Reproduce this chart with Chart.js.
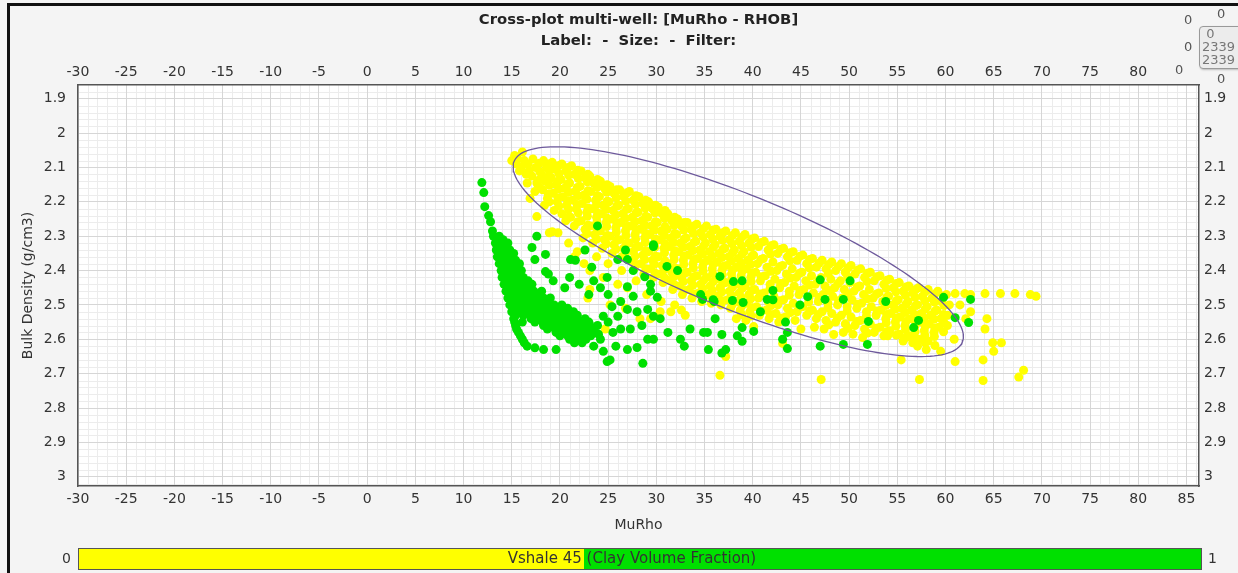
<!DOCTYPE html>
<html>
<head>
<meta charset="utf-8">
<title>Cross-plot multi-well</title>
<script src="https://cdn.jsdelivr.net/npm/chart.js@4.4.1/dist/chart.umd.min.js"></script>
<style>
  html, body { margin: 0; padding: 0; background: #f4f4f4; }
  #wrap { position: relative; width: 1238px; height: 573px; overflow: hidden;
          font-family: "DejaVu Sans", Verdana, sans-serif; }
  #plot { position: absolute; left: 0; top: 0; }
  #frame { position: absolute; left: 7px; top: 3px; width: 1300px; height: 700px;
           border-left: 3px solid #111; border-top: 3px solid #111; pointer-events: none; }
  .num { position: absolute; font-size: 13px; color: #555; }
  #box { position: absolute; left: 1199px; top: 26px; width: 48px; height: 41px;
         border: 1px solid #999; border-radius: 4px; background: #ececec;
         box-shadow: 1px 1px 2px #bbb; font-size: 13px; line-height: 13px; color: #777; }
  #box div { padding-left: 2px; }
  #cbar { position: absolute; left: 78px; top: 548px; width: 1122px; height: 20px;
          border: 1px solid #555; background: #00e000; }
  #cbarLow { position: absolute; left: 0; top: 0; height: 20px; background: #ffff00; }
  #cbarText { position: absolute; left: 0; right: 16px; top: 0px; text-align: center;
              font-size: 15px; color: #333; }
  .cbarEnd { position: absolute; top: 550px; font-size: 14px; color: #333; }
</style>
</head>
<body>
<div id="wrap">
  <canvas id="plot" width="1238" height="573"></canvas>
  <div id="frame"></div>

  <span class="num" style="left:1184px; top:12px;">0</span>
  <span class="num" style="left:1184px; top:39px;">0</span>
  <span class="num" style="left:1175px; top:62px;">0</span>
  <span class="num" style="left:1217px; top:6px;">0</span>
  <div id="box"><div>&nbsp;0</div><div>2339</div><div>2339</div></div>
  <span class="num" style="left:1217px; top:71px;">0</span>

  <span class="cbarEnd" style="left:62px;">0</span>
  <div id="cbar"><div id="cbarLow"></div><div id="cbarText"></div></div>
  <span class="cbarEnd" style="left:1208px;">1</span>
</div>

<script>
// ---------------------------------------------------------------------------
// Données lues sur le cross-plot (MuRho, RHOB)

const xTicksBottom = [-30, -25, -20, -15, -10, -5, 0, 5, 10, 15, 20, 25, 30, 35, 40, 45, 50, 55, 60, 65, 70, 75, 80, 85];
const xTicksTop = [-30, -25, -20, -15, -10, -5, 0, 5, 10, 15, 20, 25, 30, 35, 40, 45, 50, 55, 60, 65, 70, 75, 80];
const yTicks = [1.9, 2, 2.1, 2.2, 2.3, 2.4, 2.5, 2.6, 2.7, 2.8, 2.9, 3];

const vshaleCutoff = 0.45;
const vshaleLabel = 'Vshale 45 (Clay Volume Fraction)';

// Vshale < 0.45 (jaune)
const yellowPoints = [
  [15.0,2.08],[15.3,2.065],[15.5,2.09],[15.8,2.11],[15.6,2.075],[16.7,2.09],[16.8,2.11],[16.6,2.145],
  [16.1,2.055],[16.3,2.08],[16.0,2.10],[16.5,2.12],[16.9,2.19],
  [17.2,2.075],[17.5,2.10],[17.1,2.125],[17.6,2.145],[17.4,2.17],[17.6,2.243],
  [18.3,2.08],[18.6,2.10],[18.1,2.12],[18.5,2.14],[18.2,2.165],[18.7,2.19],[18.4,2.21],[18.9,2.29],
  [19.2,2.085],[19.5,2.105],[19.1,2.13],[19.6,2.15],[19.3,2.175],[19.7,2.20],[19.4,2.225],[19.2,2.287],[19.8,2.29],
  [20.2,2.09],[20.6,2.11],[20.1,2.135],[20.5,2.16],[20.3,2.185],[20.7,2.21],[20.2,2.235],[20.6,2.255],[20.9,2.32],
  [21.2,2.095],[21.5,2.12],[21.0,2.145],[21.6,2.17],[21.3,2.195],[21.7,2.22],[21.1,2.245],[21.5,2.27],[21.8,2.345],
  [22.2,2.11],[22.6,2.13],[22.1,2.155],[22.5,2.18],[22.3,2.205],[22.8,2.23],[22.2,2.255],[22.6,2.28],[22.4,2.305],
  [23.1,2.125],[23.5,2.145],[23.2,2.17],[23.7,2.195],[23.3,2.22],[23.8,2.245],[23.2,2.27],[23.6,2.295],[23.4,2.32],[23.1,2.40],[23.1,2.455],[22.9,2.48],
  [24.2,2.14],[24.6,2.16],[24.1,2.185],[24.5,2.21],[24.3,2.235],[24.8,2.26],[24.2,2.285],[24.6,2.31],[24.4,2.335],[24.7,2.57],
  [25.2,2.155],[25.6,2.175],[25.1,2.20],[25.5,2.225],[25.3,2.25],[25.8,2.275],[25.2,2.30],[25.6,2.325],[25.4,2.35],[25.2,2.50],
  [26.2,2.165],[26.6,2.185],[26.1,2.21],[26.5,2.235],[26.3,2.26],[26.8,2.285],[26.2,2.31],[26.6,2.335],[26.4,2.36],[26.8,2.51],
  [27.2,2.17],[27.6,2.195],[27.1,2.22],[27.5,2.245],[27.3,2.27],[27.8,2.295],[27.2,2.32],[27.6,2.345],[27.4,2.37],[27.7,2.395],
  [28.2,2.185],[28.6,2.205],[28.1,2.23],[28.5,2.255],[28.3,2.28],[28.8,2.305],[28.2,2.33],[28.6,2.355],[28.4,2.38],[28.7,2.41],[28.3,2.54],
  [29.2,2.20],[29.6,2.22],[29.1,2.245],[29.5,2.27],[29.3,2.295],[29.8,2.32],[29.2,2.345],[29.6,2.37],[29.4,2.395],[29.7,2.42],[29.4,2.54],
  [30.2,2.215],[30.6,2.235],[30.1,2.26],[30.5,2.285],[30.3,2.31],[30.8,2.335],[30.2,2.36],[30.6,2.385],[30.4,2.41],[30.7,2.435],
  [31.2,2.235],[31.6,2.255],[31.1,2.28],[31.5,2.305],[31.3,2.33],[31.8,2.355],[31.2,2.38],[31.6,2.405],[31.4,2.43],[31.7,2.455],
  [32.2,2.25],[32.6,2.27],[32.1,2.295],[32.5,2.32],[32.3,2.345],[32.8,2.37],[32.2,2.395],[32.6,2.42],[32.4,2.445],[32.7,2.47],
  [33.2,2.26],[33.6,2.28],[33.1,2.305],[33.5,2.33],[33.3,2.355],[33.8,2.38],[33.2,2.405],[33.6,2.43],[33.4,2.455],[33.7,2.48],
  [34.2,2.265],[34.6,2.29],[34.1,2.315],[34.5,2.34],[34.3,2.365],[34.8,2.39],[34.2,2.415],[34.6,2.44],[34.4,2.465],[34.7,2.49],
  [35.2,2.27],[35.6,2.295],[35.1,2.32],[35.5,2.345],[35.3,2.37],[35.8,2.395],[35.2,2.42],[35.6,2.445],[35.4,2.47],[35.7,2.495],
  [36.2,2.28],[36.6,2.30],[36.1,2.325],[36.5,2.35],[36.3,2.375],[36.8,2.40],[36.2,2.425],[36.6,2.45],[36.4,2.475],[36.7,2.50],
  [37.2,2.285],[37.6,2.31],[37.1,2.335],[37.5,2.36],[37.3,2.385],[37.8,2.41],[37.2,2.435],[37.6,2.46],[37.4,2.485],[37.7,2.51],
  [38.2,2.29],[38.6,2.315],[38.1,2.34],[38.5,2.365],[38.3,2.39],[38.8,2.415],[38.2,2.44],[38.6,2.465],[38.4,2.49],[38.7,2.515],[38.3,2.54],
  [39.2,2.295],[39.6,2.32],[39.1,2.345],[39.5,2.37],[39.3,2.395],[39.8,2.42],[39.2,2.445],[39.6,2.47],[39.4,2.495],[39.7,2.52],[39.3,2.545],
  [40.2,2.305],[40.6,2.33],[40.1,2.355],[40.5,2.38],[40.3,2.405],[40.8,2.43],[40.2,2.455],[40.6,2.48],[40.4,2.505],[40.7,2.53],[40.1,2.563],
  [41.2,2.315],[41.6,2.34],[41.1,2.365],[41.5,2.39],[41.3,2.415],[41.8,2.44],[41.2,2.465],[41.6,2.49],[41.4,2.515],[41.7,2.54],
  [42.2,2.325],[42.6,2.35],[42.1,2.375],[42.5,2.40],[42.3,2.425],[42.8,2.45],[42.2,2.475],[42.6,2.50],[42.4,2.525],[42.7,2.55],
  [43.2,2.335],[43.6,2.36],[43.1,2.385],[43.5,2.41],[43.3,2.435],[43.8,2.46],[43.2,2.485],[43.6,2.51],[43.4,2.535],
  [44.2,2.345],[44.6,2.37],[44.1,2.395],[44.5,2.42],[44.3,2.445],[44.8,2.47],[44.2,2.495],[44.6,2.52],[44.4,2.545],
  [45.2,2.355],[45.6,2.38],[45.1,2.405],[45.5,2.43],[45.3,2.455],[45.8,2.48],[45.2,2.505],[45.6,2.53],[45.0,2.57],
  [46.2,2.365],[46.6,2.39],[46.1,2.415],[46.5,2.44],[46.3,2.465],[46.8,2.49],[46.2,2.515],[46.6,2.54],[46.4,2.565],
  [47.2,2.37],[47.6,2.395],[47.1,2.42],[47.5,2.445],[47.3,2.47],[47.8,2.495],[47.2,2.52],[47.6,2.545],[47.4,2.57],
  [48.2,2.375],[48.6,2.40],[48.1,2.425],[48.5,2.45],[48.3,2.475],[48.8,2.50],[48.2,2.525],[48.6,2.55],[48.4,2.586],
  [49.2,2.38],[49.6,2.405],[49.1,2.43],[49.5,2.455],[49.3,2.48],[49.8,2.505],[49.2,2.53],[49.6,2.555],[49.4,2.58],
  [50.2,2.385],[50.6,2.41],[50.1,2.435],[50.5,2.46],[50.3,2.485],[50.8,2.51],[50.2,2.535],[50.6,2.56],[50.4,2.585],
  [51.2,2.395],[51.6,2.42],[51.1,2.445],[51.5,2.47],[51.3,2.495],[51.8,2.52],[51.2,2.545],[51.6,2.57],[51.4,2.595],
  [52.2,2.405],[52.6,2.43],[52.1,2.455],[52.5,2.48],[52.3,2.505],[52.8,2.53],[52.2,2.555],[52.6,2.58],
  [53.2,2.415],[53.6,2.44],[53.1,2.465],[53.5,2.49],[53.3,2.515],[53.8,2.54],[53.2,2.565],[53.6,2.59],
  [54.2,2.425],[54.6,2.45],[54.1,2.475],[54.5,2.50],[54.3,2.525],[54.8,2.55],[54.2,2.575],[54.0,2.59],
  [55.2,2.435],[55.6,2.46],[55.1,2.485],[55.5,2.51],[55.3,2.535],[55.8,2.56],[55.2,2.585],[55.6,2.605],[55.4,2.66],
  [56.2,2.445],[56.6,2.465],[56.1,2.49],[56.5,2.515],[56.3,2.54],[56.8,2.565],[56.2,2.59],[56.6,2.61],
  [57.2,2.45],[57.6,2.475],[57.1,2.50],[57.5,2.525],[57.3,2.55],[57.8,2.575],[57.2,2.60],[57.1,2.62],[57.3,2.717],
  [58.2,2.455],[58.6,2.48],[58.1,2.505],[58.5,2.53],[58.3,2.555],[58.8,2.58],[58.2,2.605],[58.0,2.63],
  [59.2,2.46],[59.6,2.49],[59.1,2.515],[59.5,2.54],[59.3,2.565],[59.5,2.635],
  [60.1,2.47],[60.4,2.50],[60.2,2.53],[60.2,2.56],[60.9,2.60],[61.5,2.50],
  // points intercalés du noyau dense
  [17.85,2.088],[17.9,2.112],[17.8,2.137],[17.9,2.158],
  [18.85,2.09],[18.9,2.11],[18.8,2.13],[18.9,2.152],[18.8,2.178],[18.9,2.20],
  [19.85,2.095],[19.9,2.118],[19.8,2.14],[19.9,2.162],[19.8,2.188],[19.9,2.212],
  [20.85,2.10],[20.9,2.122],[20.8,2.148],[20.9,2.172],[20.8,2.197],[20.9,2.222],[20.85,2.245],
  [21.85,2.108],[21.9,2.132],[21.8,2.158],[21.9,2.182],[21.8,2.208],[21.9,2.232],[21.85,2.258],
  [22.9,2.12],[22.85,2.142],[22.9,2.168],[22.8,2.192],[22.9,2.218],[22.85,2.242],[22.9,2.268],[22.8,2.292],
  [23.9,2.135],[23.85,2.158],[23.9,2.182],[23.8,2.208],[23.9,2.232],[23.85,2.258],[23.9,2.282],[23.8,2.308],
  [24.9,2.15],[24.85,2.172],[24.9,2.198],[24.8,2.222],[24.9,2.248],[24.85,2.272],[24.9,2.298],[24.8,2.322],
  [25.9,2.165],[25.85,2.188],[25.9,2.212],[25.8,2.238],[25.9,2.262],[25.85,2.288],[25.9,2.312],[25.8,2.338],
  [26.9,2.175],[26.85,2.198],[26.9,2.222],[26.8,2.248],[26.9,2.272],[26.85,2.298],[26.9,2.322],[26.8,2.348],
  [27.9,2.182],[27.85,2.208],[27.9,2.232],[27.8,2.258],[27.9,2.282],[27.85,2.308],[27.9,2.332],[27.8,2.358],[27.9,2.382],
  [28.9,2.195],[28.85,2.218],[28.9,2.242],[28.8,2.268],[28.9,2.292],[28.85,2.318],[28.9,2.342],[28.8,2.368],[28.9,2.395],
  [29.9,2.21],[29.85,2.232],[29.9,2.258],[29.8,2.282],[29.9,2.308],[29.85,2.332],[29.9,2.358],[29.8,2.382],[29.9,2.408],
  [30.9,2.225],[30.85,2.248],[30.9,2.272],[30.8,2.298],[30.9,2.322],[30.85,2.348],[30.9,2.372],[30.8,2.398],[30.9,2.422],
  [31.9,2.245],[31.85,2.268],[31.9,2.292],[31.8,2.318],[31.9,2.342],[31.85,2.368],[31.9,2.392],[31.8,2.418],[31.9,2.442],
  [32.9,2.26],[32.85,2.282],[32.9,2.308],[32.8,2.332],[32.9,2.358],[32.85,2.382],[32.9,2.408],[32.8,2.432],[32.9,2.458],
  [33.9,2.27],[33.85,2.292],[33.9,2.318],[33.8,2.342],[33.9,2.368],[33.85,2.392],[33.9,2.418],[33.8,2.442],[33.9,2.468],
  [34.9,2.278],[34.85,2.302],[34.9,2.328],[34.8,2.352],[34.9,2.378],[34.85,2.402],[34.9,2.428],[34.8,2.452],[34.9,2.478],
  [35.9,2.282],[35.85,2.308],[35.9,2.332],[35.8,2.358],[35.9,2.382],[35.85,2.408],[35.9,2.432],[35.8,2.458],[35.9,2.482],
  [36.9,2.29],[36.85,2.312],[36.9,2.338],[36.8,2.362],[36.9,2.388],[36.85,2.412],[36.9,2.438],[36.8,2.462],[36.9,2.488],
  [37.9,2.298],[37.85,2.322],[37.9,2.348],[37.8,2.372],[37.9,2.398],[37.85,2.422],[37.9,2.448],[37.8,2.472],[37.9,2.498],
  [38.9,2.302],[38.85,2.328],[38.9,2.352],[38.8,2.378],[38.9,2.402],[38.85,2.428],[38.9,2.452],[38.8,2.478],[38.9,2.502],[38.85,2.528],
  [39.9,2.308],[39.85,2.332],[39.9,2.358],[39.8,2.382],[39.9,2.408],[39.85,2.432],[39.9,2.458],[39.8,2.482],[39.9,2.508],[39.85,2.532],
  [40.9,2.318],[40.85,2.368],[40.9,2.418],[40.8,2.468],[40.9,2.518],
  [41.9,2.328],[41.85,2.352],[41.9,2.402],[41.8,2.452],[41.9,2.502],[41.85,2.528],
  [42.9,2.338],[42.85,2.388],[42.9,2.438],[42.8,2.488],[42.9,2.538],
  [43.9,2.348],[43.85,2.372],[43.9,2.422],[43.8,2.472],[43.9,2.522],
  [44.9,2.358],[44.85,2.408],[44.9,2.458],[44.8,2.508],
  [45.9,2.368],[45.85,2.392],[45.9,2.442],[45.8,2.492],[45.9,2.518],
  [46.9,2.378],[46.85,2.428],[46.9,2.478],[46.8,2.528],
  [47.9,2.382],[47.85,2.408],[47.9,2.458],[47.8,2.508],[47.9,2.558],
  [48.9,2.388],[48.85,2.438],[48.9,2.488],[48.8,2.538],
  [49.9,2.392],[49.85,2.418],[49.9,2.468],[49.8,2.518],[49.9,2.568],
  [50.9,2.398],[50.85,2.448],[50.9,2.498],[50.8,2.548],
  [51.9,2.408],[51.85,2.432],[51.9,2.482],[51.8,2.532],[51.9,2.582],
  [52.9,2.418],[52.85,2.468],[52.9,2.518],[52.8,2.568],
  [53.9,2.428],[53.85,2.452],[53.9,2.478],[53.8,2.502],[53.9,2.528],[53.85,2.552],[53.9,2.578],
  [54.9,2.438],[54.85,2.462],[54.9,2.488],[54.8,2.512],[54.9,2.538],[54.85,2.562],[54.9,2.588],
  [55.9,2.448],[55.85,2.472],[55.9,2.498],[55.8,2.522],[55.9,2.548],[55.85,2.572],[55.9,2.595],
  [56.9,2.455],[56.85,2.478],[56.9,2.502],[56.8,2.528],[56.9,2.552],[56.85,2.578],[56.9,2.60],
  [57.9,2.462],[57.85,2.488],[57.9,2.512],[57.8,2.538],[57.9,2.562],[57.85,2.588],[57.9,2.61],
  [58.9,2.468],[58.85,2.492],[58.9,2.518],[58.8,2.542],[58.9,2.568],[58.85,2.592],[58.9,2.618],
  [59.8,2.475],[59.85,2.502],[59.8,2.528],[59.85,2.552],[59.8,2.578],
  // zone de mélange et points isolés
  [21.5,2.36],[22.5,2.38],[24.5,2.42],[26.0,2.44],[27.0,2.45],[30.5,2.49],[31.5,2.52],[33.0,2.53],[30.4,2.52],
  [23.8,2.36],[25.0,2.38],[26.4,2.40],[27.9,2.43],[29.0,2.47],[31.9,2.50],[32.6,2.515],
  [61.0,2.467],[62.0,2.467],[62.6,2.47],[64.1,2.467],[65.7,2.467],[67.2,2.467],[68.8,2.47],[69.4,2.475],
  [62.6,2.52],[64.3,2.54],[62.1,2.54],[64.1,2.57],[64.9,2.61],[65.8,2.61],[65.0,2.635],[63.9,2.66],[61.0,2.665],
  [68.1,2.69],[67.6,2.71],[63.9,2.72],[47.1,2.717],[36.6,2.705],[37.2,2.65],[43.1,2.612]
];

// Vshale >= 0.45 (vert)
const greenPoints = [
  [11.9,2.144],[12.1,2.173],[12.2,2.214],[12.6,2.24],[12.8,2.258],[13.0,2.285],
  [13.1,2.30],[13.7,2.30],
  [13.3,2.32],[14.0,2.32],[14.6,2.32],
  [13.4,2.34],[14.1,2.34],[14.8,2.34],
  [13.5,2.36],[14.2,2.36],[15.0,2.36],
  [13.7,2.38],[14.4,2.38],[15.1,2.38],[15.8,2.38],
  [13.9,2.40],[14.6,2.40],[15.3,2.40],[16.0,2.40],
  [14.0,2.42],[14.7,2.42],[15.4,2.42],[16.2,2.42],
  [14.2,2.44],[14.9,2.44],[15.6,2.44],[16.4,2.44],[17.1,2.44],
  [14.4,2.46],[15.1,2.46],[15.8,2.46],[16.6,2.46],[17.3,2.46],[18.1,2.46],
  [14.6,2.48],[15.3,2.48],[16.0,2.48],[16.8,2.48],[17.5,2.48],[18.3,2.48],[19.0,2.48],
  [14.8,2.50],[15.6,2.50],[16.3,2.50],[17.0,2.50],[17.8,2.50],[18.6,2.50],[19.4,2.50],[20.2,2.50],
  [15.0,2.52],[15.8,2.52],[16.6,2.52],[17.4,2.52],[18.2,2.52],[19.0,2.52],[19.8,2.52],[20.6,2.52],[21.4,2.52],
  [15.2,2.54],[17.0,2.54],[17.8,2.54],[18.6,2.54],[19.4,2.54],[20.2,2.54],[21.0,2.54],[21.8,2.54],[22.6,2.54],
  [15.4,2.56],[18.3,2.56],[19.1,2.56],[19.9,2.56],[20.7,2.56],[21.5,2.56],[22.3,2.56],[23.1,2.56],[23.9,2.56],
  [15.7,2.58],[19.6,2.58],[20.4,2.58],[21.2,2.58],[22.0,2.58],[22.8,2.58],[23.6,2.58],
  [16.1,2.60],[21.0,2.60],[21.9,2.60],[22.7,2.60],[24.2,2.60],
  [16.6,2.62],[17.4,2.625],[18.3,2.63],[19.6,2.63],[23.5,2.62],[25.8,2.62],
  // points intercalés de la bande dense
  [13.4,2.31],[14.1,2.31],[13.7,2.33],[14.4,2.33],[13.8,2.35],[14.5,2.35],[15.2,2.35],
  [14.0,2.37],[14.7,2.37],[15.4,2.37],[14.1,2.39],[14.8,2.39],[15.6,2.39],
  [14.3,2.41],[15.0,2.41],[15.7,2.41],[14.5,2.43],[15.2,2.43],[15.9,2.43],[16.7,2.43],
  [14.6,2.45],[15.4,2.45],[16.1,2.45],[16.9,2.45],[14.8,2.47],[15.6,2.47],[16.3,2.47],[17.0,2.47],[17.8,2.47],
  [15.0,2.49],[15.8,2.49],[16.5,2.49],[17.2,2.49],[18.0,2.49],[18.7,2.49],
  [15.2,2.51],[16.0,2.51],[16.8,2.51],[17.6,2.51],[18.4,2.51],[19.2,2.51],[20.0,2.51],[20.8,2.51],
  [15.4,2.53],[16.2,2.53],[17.0,2.53],[17.8,2.53],[18.6,2.53],[19.4,2.53],[20.2,2.53],[21.0,2.53],[21.8,2.53],
  [15.3,2.55],[16.1,2.55],[17.4,2.55],[18.2,2.55],[19.0,2.55],[19.8,2.55],[20.6,2.55],[21.4,2.55],[22.2,2.55],[23.0,2.55],
  [15.5,2.57],[18.7,2.57],[19.5,2.57],[20.3,2.57],[21.1,2.57],[21.9,2.57],[22.7,2.57],[23.5,2.57],
  [15.9,2.59],[20.0,2.59],[20.8,2.59],[21.6,2.59],[22.4,2.59],[23.2,2.59],[16.3,2.61],[21.5,2.61],[22.3,2.61],
  // points dispersés
  [17.6,2.30],[17.1,2.333],[17.4,2.368],[18.5,2.353],[18.5,2.403],[18.8,2.41],[19.3,2.43],
  [21.1,2.368],[21.6,2.37],[22.6,2.34],[23.3,2.39],[23.5,2.43],[24.9,2.42],[26.0,2.368],[27.0,2.368],
  [27.6,2.40],[29.7,2.33],[28.8,2.418],[29.4,2.44],[29.4,2.46],[30.1,2.478],[27.0,2.447],[27.6,2.475],
  [26.3,2.49],[25.4,2.505],[24.5,2.533],[26.0,2.533],[27.0,2.513],[28.0,2.52],[29.1,2.513],[29.7,2.533],
  [28.5,2.56],[27.3,2.57],[27.0,2.63],[28.0,2.624],[28.6,2.67],[24.9,2.665],[25.2,2.66],[24.5,2.635],
  [29.7,2.60],[29.1,2.60],[23.9,2.27],[31.1,2.388],[32.2,2.40],[26.8,2.34],[24.2,2.45],[25.0,2.47],
  [23.0,2.47],[22.0,2.44],[20.5,2.45],[21.0,2.42],[25.0,2.55],[25.5,2.58],[24.0,2.585],[26.3,2.57],
  [30.4,2.54],[31.2,2.58],[32.5,2.60],[32.9,2.62],[33.5,2.57],[34.9,2.58],[35.4,2.63],[36.8,2.64],
  [35.9,2.485],[34.6,2.47],[34.8,2.484],[36.1,2.54],[35.3,2.58],[36.8,2.586],[38.4,2.59],[38.9,2.566],
  [38.9,2.606],[40.1,2.577],[43.1,2.60],[43.6,2.58],[47.0,2.62],[49.4,2.615],[51.9,2.615],[37.2,2.63],
  [38.0,2.432],[38.9,2.43],[42.1,2.458],[42.1,2.485],[44.9,2.50],[45.7,2.476],[47.0,2.427],[47.5,2.484],
  [49.4,2.484],[50.1,2.43],[52.0,2.548],[53.8,2.49],[56.7,2.566],[57.2,2.545],[59.8,2.478],[62.6,2.484],
  [61.0,2.537],[62.4,2.551],[36.0,2.49],[37.9,2.487],[39.0,2.493],[40.8,2.52],[41.5,2.484],[43.4,2.55],
  [43.6,2.627],[36.6,2.417],[29.7,2.325]
];

// Ellipse de sélection : centre et demi-axes (unités MuRho / RHOB)
const ellipseCenter = [38.5, 2.345];
const ellipseAxisU = [23.25, 0.263];
const ellipseAxisV = [-2.23, 0.155];

const font = '"DejaVu Sans", Verdana, sans-serif';
const X_MIN = -30, X_MAX = 86.3, Y_MIN = 1.86, Y_MAX = 3.027;

document.getElementById('cbarLow').style.width = (vshaleCutoff * 100) + '%';
document.getElementById('cbarText').textContent = vshaleLabel;

// contour de l'ellipse
const ellipsePts = [];
for (let i = 0; i <= 180; i++) {
    const t = i / 180 * 2 * Math.PI;
    ellipsePts.push({
        x: ellipseCenter[0] + ellipseAxisU[0] * Math.cos(t) + ellipseAxisV[0] * Math.sin(t),
        y: ellipseCenter[1] + ellipseAxisU[1] * Math.cos(t) + ellipseAxisV[1] * Math.sin(t)
    });
}

const toXY = arr => arr.map(p => ({ x: p[0], y: p[1] }));

// fond blanc + grille secondaire
const minorGrid = {
    id: 'minorGrid',
    beforeDraw(chart) {
        const { ctx, chartArea: a, scales } = chart;
        ctx.save();
        ctx.fillStyle = '#ffffff';
        ctx.fillRect(a.left, a.top, a.right - a.left, a.bottom - a.top);
        ctx.strokeStyle = '#ececec';
        ctx.lineWidth = 1;
        ctx.beginPath();
        for (let v = -29; v <= 86; v++) {
            if (v % 5 === 0) continue;
            const px = Math.round(scales.x.getPixelForValue(v)) + 0.5;
            ctx.moveTo(px, a.top); ctx.lineTo(px, a.bottom);
        }
        for (let i = 94; i <= 151; i++) {
            if (i % 5 === 0) continue;
            const py = Math.round(scales.y.getPixelForValue(i / 50)) + 0.5;
            ctx.moveTo(a.left, py); ctx.lineTo(a.right, py);
        }
        ctx.stroke();
        ctx.restore();
    }
};

const tickFont = { family: font, size: 14 };
const border = { display: true, color: '#555', width: 1.5 };
const fmt = v => String(v);

new Chart(document.getElementById('plot'), {
    type: 'scatter',
    data: {
        datasets: [
            {
                label: 'ellipse',
                data: ellipsePts,
                showLine: true,
                pointRadius: 0,
                borderColor: '#6e5a9c',
                borderWidth: 1.3,
                fill: false,
                order: 0
            },
            {
                label: 'Vshale >= 0.45',
                data: toXY(greenPoints),
                backgroundColor: '#00e000',
                borderWidth: 0,
                pointRadius: 4.5,
                order: 1
            },
            {
                label: 'Vshale < 0.45',
                data: toXY(yellowPoints),
                backgroundColor: '#ffff00',
                borderWidth: 0,
                pointRadius: 4.5,
                order: 2
            }
        ]
    },
    options: {
        responsive: false,
        animation: false,
        events: [],
        layout: { padding: { left: 0, right: 0, top: 0, bottom: 37 } },
        plugins: {
            legend: { display: false },
            tooltip: { enabled: false },
            title: {
                display: true,
                fullSize: false,
                text: 'Cross-plot multi-well: [MuRho - RHOB]',
                color: '#222',
                font: { family: font, size: 14.8, weight: 'bold' },
                padding: { top: 11, bottom: 0 }
            },
            subtitle: {
                display: true,
                fullSize: false,
                text: 'Label:  -  Size:  -  Filter:',
                color: '#222',
                font: { family: font, size: 14.8, weight: 'bold' },
                padding: { top: 4, bottom: 0 }
            }
        },
        scales: {
            x: {
                type: 'linear', position: 'bottom', min: X_MIN, max: X_MAX,
                afterBuildTicks: s => { s.ticks = xTicksBottom.map(v => ({ value: v })); },
                afterFit: s => { s.height = 50; },
                ticks: { font: tickFont, color: '#333', padding: 5, maxRotation: 0, callback: fmt },
                grid: { color: '#d6d6d6', drawTicks: false },
                border: border,
                title: { display: true, text: 'MuRho', color: '#333',
                         font: { family: font, size: 14 }, padding: { top: 0, bottom: 2 } }
            },
            xTop: {
                type: 'linear', position: 'top', min: X_MIN, max: X_MAX,
                afterBuildTicks: s => { s.ticks = xTicksTop.map(v => ({ value: v })); },
                afterFit: s => { s.height = 34.5; },
                ticks: { font: tickFont, color: '#333', padding: 4, maxRotation: 0, callback: fmt },
                grid: { drawOnChartArea: false, drawTicks: false },
                border: border
            },
            y: {
                type: 'linear', position: 'left', reverse: true, min: Y_MIN, max: Y_MAX,
                afterBuildTicks: s => { s.ticks = yTicks.map(v => ({ value: v })); },
                afterFit: s => { s.width = 78; },
                ticks: { font: tickFont, color: '#333', padding: 12, callback: fmt },
                grid: { color: '#d6d6d6', drawTicks: false },
                border: border,
                title: { display: true, text: 'Bulk Density (g/cm3)', color: '#333',
                         font: { family: font, size: 14 }, padding: { top: 20, bottom: 0 } }
            },
            yRight: {
                type: 'linear', position: 'right', reverse: true, min: Y_MIN, max: Y_MAX,
                afterBuildTicks: s => { s.ticks = yTicks.map(v => ({ value: v })); },
                afterFit: s => { s.width = 39; },
                ticks: { font: tickFont, color: '#333', padding: 5, callback: fmt },
                grid: { drawOnChartArea: false, drawTicks: false },
                border: border
            }
        }
    },
    plugins: [minorGrid]
});
</script>
</body>
</html>
